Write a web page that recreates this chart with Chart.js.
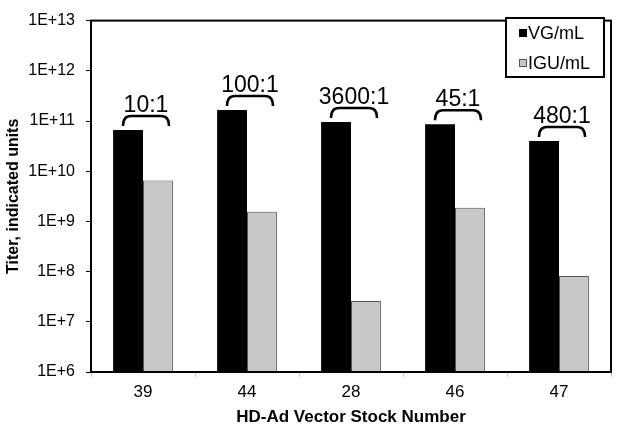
<!DOCTYPE html>
<html>
<head>
<meta charset="utf-8">
<script src="https://cdn.jsdelivr.net/npm/chart.js@4.4.1/dist/chart.umd.min.js"></script>
<style>
    html, body { margin: 0; padding: 0; background: #fff; }
    #wrap { width: 620px; height: 431px; position: relative; }
</style>
</head>
<body>
<div id="wrap"><canvas id="titerChart"></canvas></div>
<script>
        // data
        const stocks = ['39', '44', '28', '46', '47'];
        const vgPerMl = [6.6e10, 1.66e11, 9.6e10, 8.6e10, 4.0e10];
        const iguPerMl = [6.5e9, 1.56e9, 2.6e7, 1.86e9, 8.2e7];
        const ratios = ['10:1', '100:1', '3600:1', '45:1', '480:1'];
        const yTicks = [1e6, 1e7, 1e8, 1e9, 1e10, 1e11, 1e12, 1e13];
        const yTickLabels = ['1E+6', '1E+7', '1E+8', '1E+9', '1E+10', '1E+11', '1E+12', '1E+13'];

        const FONT = "'Liberation Sans', Arial, Helvetica, sans-serif";
        Chart.defaults.font.family = FONT;
        Chart.defaults.color = '#000';

        // frame round the plot area
        const framePlugin = {
            id: 'frame',
            afterDatasetsDraw(chart) {
                const a = chart.chartArea;
                const ctx = chart.ctx;
                ctx.save();
                ctx.strokeStyle = '#000';
                ctx.lineWidth = 2;
                ctx.strokeRect(a.left, a.top, a.right - a.left, a.bottom - a.top);
                ctx.restore();
            }
        };

        // ratio labels with brackets above each pair of bars
        const ratioPlugin = {
            id: 'ratios',
            afterDatasetsDraw(chart) {
                const ctx = chart.ctx;
                const xs = chart.scales.x;
                const ys = chart.scales.y;
                ctx.save();
                ctx.strokeStyle = '#000';
                ctx.lineWidth = 2.5;
                ctx.fillStyle = '#000';
                ctx.font = '23px ' + FONT;
                ctx.textAlign = 'center';
                ctx.textBaseline = 'alphabetic';
                ratios.forEach((txt, i) => {
                    const cx = xs.getPixelForValue(i) + 3;
                    const yBar = ys.getPixelForValue(vgPerMl[i]);
                    const bot = yBar - 4;
                    const top = yBar - 14;
                    const x0 = cx - 23, x1 = cx + 23;
                    ctx.beginPath();
                    ctx.moveTo(x0, bot);
                    ctx.quadraticCurveTo(x0, top, x0 + 8, top);
                    ctx.lineTo(x1 - 8, top);
                    ctx.quadraticCurveTo(x1, top, x1, bot);
                    ctx.stroke();
                    ctx.fillText(txt, cx, yBar - 18);
                });
                ctx.restore();
            }
        };

        // boxed legend in the top right corner
        const legendPlugin = {
            id: 'boxLegend',
            afterDraw(chart) {
                const ctx = chart.ctx;
                const bx = 506, by = 18, bw = 98, bh = 59;
                ctx.save();
                ctx.fillStyle = '#fff';
                ctx.fillRect(bx, by, bw, bh);
                ctx.strokeStyle = '#000';
                ctx.lineWidth = 2;
                ctx.strokeRect(bx, by, bw, bh);
                ctx.font = '18px ' + FONT;
                ctx.textBaseline = 'middle';
                ctx.textAlign = 'left';
                chart.data.datasets.forEach((ds, i) => {
                    const cy = by + 15 + i * 30;
                    ctx.fillStyle = ds.backgroundColor;
                    ctx.fillRect(bx + 13, cy - 4, 8, 8);
                    ctx.strokeStyle = i === 0 ? '#000' : '#555';
                    ctx.lineWidth = 1;
                    ctx.strokeRect(bx + 13.5, cy - 3.5, 7, 7);
                    ctx.fillStyle = '#000';
                    ctx.fillText(ds.label, bx + 22, cy + 1);
                });
                ctx.restore();
            }
        };

        const ctx = document.getElementById('titerChart').getContext('2d');
        const titerChart = new Chart(ctx, {
            type: 'bar',
            data: {
                labels: stocks,
                datasets: [{
                    label: 'VG/mL',
                    data: vgPerMl,
                    backgroundColor: '#000000',
                    borderWidth: 0
                }, {
                    label: 'IGU/mL',
                    data: iguPerMl,
                    backgroundColor: '#c8c8c8',
                    borderColor: '#555555',
                    borderWidth: 1
                }]
            },
            options: {
                responsive: true,
                maintainAspectRatio: false,
                animation: false,
                devicePixelRatio: 1,
                layout: { padding: { top: 10, right: 9, left: 0, bottom: 0 } },
                datasets: {
                    bar: { categoryPercentage: 0.575, barPercentage: 1.0 }
                },
                plugins: {
                    legend: { display: false },
                    tooltip: { enabled: false }
                },
                scales: {
                    x: {
                        grid: {
                            drawOnChartArea: false,
                            drawTicks: true,
                            tickLength: 5,
                            color: '#bbbbbb'
                        },
                        border: { color: '#000', width: 2 },
                        ticks: { font: { size: 17 }, padding: 5, color: '#000' },
                        title: {
                            display: true,
                            text: 'HD-Ad Vector Stock Number',
                            font: { size: 17, weight: 'bold' },
                            padding: { top: 0, bottom: 3 }
                        },
                        afterFit(scale) { scale.height = 59; }
                    },
                    y: {
                        type: 'logarithmic',
                        min: 1e6,
                        max: 1e13,
                        grid: {
                            drawOnChartArea: false,
                            drawTicks: true,
                            tickLength: 5,
                            color: '#000'
                        },
                        border: { color: '#000', width: 2 },
                        afterBuildTicks(scale) {
                            scale.ticks = yTicks.map(v => ({ value: v }));
                        },
                        ticks: {
                            font: { size: 16 },
                            padding: 11,
                            color: '#000',
                            callback: function(value) {
                                const k = yTicks.indexOf(value);
                                return k >= 0 ? yTickLabels[k] : '';
                            }
                        },
                        title: {
                            display: true,
                            text: 'Titer, indicated units',
                            font: { size: 16, weight: 'bold' },
                            padding: { top: 4, bottom: 0 }
                        },
                        afterFit(scale) { scale.width = 91; }
                    }
                }
            },
            plugins: [framePlugin, ratioPlugin, legendPlugin]
        });
</script>
</body>
</html>
